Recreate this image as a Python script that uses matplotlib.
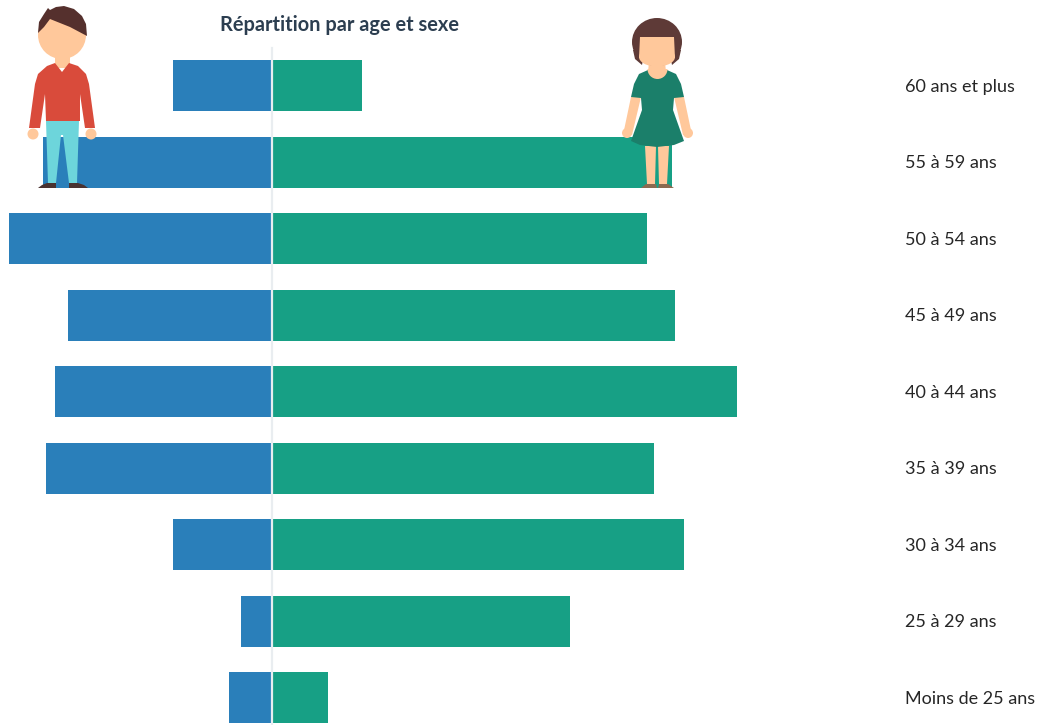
import matplotlib
matplotlib.use('Agg')
import matplotlib.pyplot as plt
from matplotlib.patches import Polygon, Circle, Ellipse, Wedge

plt.rcParams['font.family'] = ['Lato', 'DejaVu Sans']

ages = ['60 ans et plus', '55 à 59 ans', '50 à 54 ans', '45 à 49 ans', '40 à 44 ans',
        '35 à 39 ans', '30 à 34 ans', '25 à 29 ans', 'Moins de 25 ans']
hommes = [9.9, 22.9, 26.3, 20.4, 21.7, 22.6, 9.9, 3.1, 4.3]
femmes = [9.0, 40.0, 37.5, 40.3, 46.5, 38.2, 41.2, 29.8, 5.6]

fig = plt.figure(figsize=(10.41, 7.25), dpi=100)
ax = fig.add_axes([0, 0, 1, 1])
pos = range(len(ages))
ax.barh(pos, [-h for h in hommes], height=0.667, color='#2a7fba')
ax.barh(pos, femmes, height=0.667, color='#17a085')
ax.set_xlim(-27.2, 76.9)
ax.set_ylim(8.355, -1.123)
ax.plot([0, 0], [-0.49, 8.36], color='#e9edf0', lw=1.6, zorder=3)
ax.axis('off')
for i, a in enumerate(ages):
    ax.text(63.3, i + 0.012, a, fontsize=13, color='#262626', va='center', ha='left')

# pictos, en pixels
pic = fig.add_axes([0, 0, 1, 1], facecolor='none')
pic.set_xlim(0, 1041)
pic.set_ylim(725, 0)
pic.axis('off')
pic.text(340, 25, 'Répartition par age et sexe', fontsize=14.4, fontweight='bold',
         color='#2c3e50', ha='center', va='center')

peau = '#ffc89b'

def poly(pts, c, z=5):
    pic.add_patch(Polygon(pts, closed=True, fc=c, ec='none', zorder=z))

# homme
pic.add_patch(Circle((33, 134), 5.5, fc=peau, ec='none', zorder=4))
pic.add_patch(Circle((91, 134), 5.5, fc=peau, ec='none', zorder=4))
poly([(46, 121), (79, 121), (77, 183), (69, 183), (63, 135), (61, 135), (56, 183), (48, 183)], '#6dd5db')
poly([(38, 188), (42, 185), (47, 183), (56, 183), (56, 188)], '#4a3230')
poly([(69, 188), (69, 183), (78, 183), (84, 185), (88, 188)], '#4a3230')
poly([(55, 55), (70, 55), (70, 68), (55, 68)], peau, 5)
poly([(55, 63), (62, 72), (69, 63), (78, 66), (86, 74), (89, 84), (95, 128), (85, 128), (80, 94),
      (80, 121), (46, 121), (45, 94), (40, 128), (29, 128), (35, 84), (38, 74), (47, 66)], '#d94b3b', 6)
pic.add_patch(Circle((62, 35), 24, fc=peau, ec='none', zorder=7))
poly([(38, 33), (39, 22), (44, 14), (48, 8), (50, 10), (56, 7), (64, 6), (74, 9), (82, 16), (86, 24), (87, 36),
      (70, 27), (50, 19), (44, 27)], '#55302d', 8)

# femme
pic.add_patch(Circle((627, 133), 5, fc=peau, ec='none', zorder=4))
pic.add_patch(Circle((688, 133), 5, fc=peau, ec='none', zorder=4))
poly([(631, 97), (641, 97), (632, 135), (623, 135)], peau)
poly([(674, 97), (684, 97), (692, 135), (683, 135)], peau)
poly([(645, 146), (656, 146), (655, 184), (647, 184)], peau)
poly([(658, 146), (669, 146), (667, 184), (659, 184)], peau)
poly([(641, 188), (646, 184), (656, 184), (657, 188)], '#8b6a50')
poly([(658, 188), (659, 184), (668, 184), (674, 188)], '#8b6a50')
poly([(648, 70), (639, 74), (634, 84), (631, 97), (641, 98), (642, 110), (631, 141), (640, 145), (657, 147),
      (674, 145), (684, 141), (673, 110), (674, 98), (684, 97), (681, 84), (676, 74), (667, 70)], '#1b7f6a', 6)
pic.add_patch(Wedge((657.5, 69), 10, 0, 180, fc=peau, ec='none', zorder=7))
pic.add_patch(Ellipse((657, 42), 50, 48, fc='#5e3a37', ec='none', zorder=8))
poly([(633, 50), (635, 59), (642, 65), (645, 50)], '#5e3a37', 8)
poly([(681, 50), (679, 59), (672, 65), (669, 50)], '#5e3a37', 8)
poly([(640, 37), (674, 37), (675, 58), (639, 58)], peau, 9)
pic.add_patch(Ellipse((657, 57), 36, 19, fc=peau, ec='none', zorder=9))
poly([(649, 62), (665, 62), (666, 72), (648, 72)], peau, 7)

fig.savefig('out.png', dpi=100)
